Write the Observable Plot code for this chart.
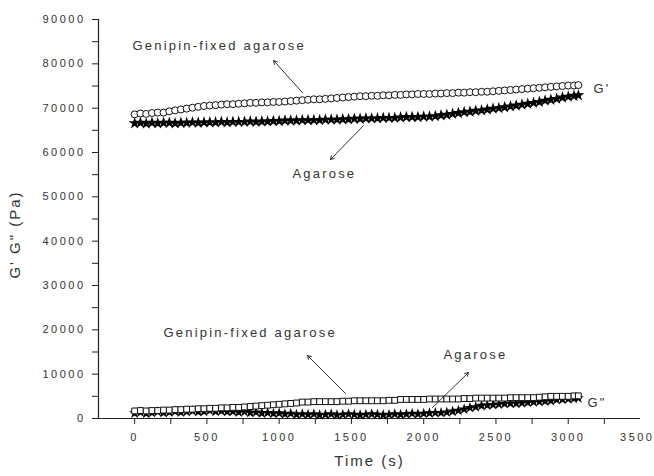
<!DOCTYPE html>
<html><head><meta charset="utf-8">
<script src="https://cdn.jsdelivr.net/npm/d3@7"></script>
<script src="https://cdn.jsdelivr.net/npm/@observablehq/plot@0.6"></script>
<style>
body{margin:0;background:#fff}
svg{font-family:"Liberation Sans",Arial,sans-serif}
</style>
</head><body><div id="chart"></div>
<script>
const times = [
0,40,80,120,160,200,240,280,320,360,
400,440,480,520,560,600,640,680,720,760,
800,840,880,920,960,1000,1040,1080,1120,1160,
1200,1240,1280,1320,1360,1400,1440,1480,1520,1560,
1600,1640,1680,1720,1760,1800,1840,1880,1920,1960,
2000,2040,2080,2120,2160,2200,2240,2280,2320,2360,
2400,2440,2480,2520,2560,2600,2640,2680,2720,2760,
2800,2840,2880,2920,2960,3000,3040,3070];

// G' genipin-fixed agarose (open circles)
const genipinGp = [
68600,68800,68700,68900,69000,69000,69300,69500,69700,69900,
70100,70300,70500,70600,70700,70800,70900,70900,71000,71100,
71200,71200,71300,71300,71400,71400,71500,71600,71700,71800,
71900,72000,72000,72100,72200,72300,72400,72500,72600,72700,
72700,72800,72800,72900,72900,73000,73000,73100,73100,73200,
73200,73200,73300,73300,73400,73400,73500,73500,73600,73600,
73700,73700,73800,73900,74000,74100,74200,74300,74400,74500,
74600,74700,74800,74900,75000,75100,75100,75200];

// G' agarose (filled)
const agaroseGp = [
66600,66700,66500,66700,66600,66700,66700,66600,66700,66700,
66800,66700,66800,66800,66800,66900,66800,66900,66900,66900,
67000,66900,67000,67000,67100,67100,67200,67200,67200,67300,
67300,67300,67300,67400,67400,67400,67500,67500,67600,67600,
67700,67700,67700,67800,67800,67800,67900,68000,68000,68000,
68100,68100,68200,68400,68500,68700,68900,69100,69200,69400,
69500,69700,69900,70000,70200,70400,70600,70800,71000,71200,
71400,71700,71900,72100,72400,72600,72800,72900];

// G" genipin-fixed agarose (open squares)
const genipinGpp = [
1700,1800,1700,1800,1800,1900,1900,2000,2000,2100,
2100,2200,2200,2300,2300,2400,2400,2500,2500,2600,
2700,2800,2900,3000,3100,3200,3300,3400,3500,3700,
3700,3800,3800,3800,3800,3800,3900,3900,4000,4000,
4000,4000,4000,4000,4100,4100,4300,4300,4300,4300,
4300,4400,4400,4400,4400,4400,4400,4500,4500,4600,
4600,4600,4600,4600,4600,4700,4700,4700,4700,4700,
4800,4900,5000,5000,5000,5000,5100,5100];

// G" agarose (stars)
const agaroseGpp = [
1200,1400,1100,1300,1500,1300,1400,1600,1400,1500,
1700,1500,1600,1800,1600,1700,1500,1600,1400,1500,
1300,1400,1200,1300,1100,1200,1000,1100,900,1000,
900,1000,800,900,1000,800,900,1000,900,800,
900,1000,900,800,900,1000,900,1000,1100,1000,
1100,1200,1300,1300,1400,1600,1800,2100,2400,2600,
2900,3000,3100,3200,3300,3400,3400,3500,3600,3700,
3800,3900,4000,4200,4300,4400,4500,4600];

const yTicks = [0,10000,20000,30000,40000,50000,60000,70000,80000,90000];
const yMinor = [5000,15000,25000,35000,45000,55000,65000,75000,85000];
const xTicks = [0,500,1000,1500,2000,2500,3000];
const xLastTick = [3500];
const xMinor = [250,750,1250,1750,2250,2750,3250];

const labels = [
  {t:-15, v:84100, text:"Genipin-fixed agarose"},
  {t:1092, v:55260, text:"Agarose"},
  {t:200, v:19400, text:"Genipin-fixed agarose"},
  {t:2137, v:14440, text:"Agarose"},
  {t:3175, v:74440, text:"G'"},
  {t:3133, v:3610, text:"G\""}
];
const arrows = [
  {t1:1161, v1:73500, t2:961, v2:80750},
  {t1:1584, v1:66090, t2:1355, v2:58420},
  {t1:1459, v1:5640, t2:1196, v2:14210},
  {t1:2061, v1:2480, t2:2310, v2:10380}
];
const yTitle = [{t:-250, v:41500, text:"G' G\" (Pa)"}];
const xTitle = ["Time (s)"];

const rows = (vals) => times.map((t, i) => ({t, v: vals[i]}));

const chart = Plot.plot({
  width: 654, height: 476,
  marginLeft: 98, marginRight: 14, marginTop: 19, marginBottom: 58,
  x: {domain: [-250, 3500]},
  y: {domain: [0, 90000]},
  style: {background: "white", fontFamily: "'Liberation Sans', Arial, sans-serif"},
  marks: [
    Plot.axisY(yMinor, {tickSize: 6, tickFormat: () => "", stroke: "#222", label: null}),
    Plot.axisY(yTicks, {tickSize: 6, tickPadding: 7, tickFormat: d => String(d), fontSize: 11, fill: "#333", stroke: "#222", label: null, ariaLabel: "ytl"}),
    Plot.axisX(xMinor, {tickSize: 6, tickFormat: () => "", stroke: "#222", label: null}),
    Plot.axisX(xTicks, {tickSize: 6, tickPadding: 9, tickFormat: d => String(d), fontSize: 11, fill: "#333", stroke: "#222", label: null, ariaLabel: "xtl"}),
    Plot.axisX(xLastTick, {tickSize: 6, tickPadding: 9, tickFormat: d => String(d), fontSize: 11, fill: "#333", stroke: "#222", label: null, textAnchor: "end", dx: 14, ariaLabel: "xtl"}),
    Plot.ruleX([-250], {y1: 0, y2: 90000, stroke: "#222", strokeWidth: 1.2}),
    Plot.ruleY([0], {x1: -250, x2: 3500, stroke: "#222", strokeWidth: 1.2}),
    Plot.dot(rows(agaroseGp), {x: "t", y: "v", symbol: "star", fill: "black", r: 3.8}),
    Plot.dot(rows(genipinGp), {x: "t", y: "v", symbol: "circle", fill: "white", stroke: "#111", strokeWidth: 1, r: 3.5}),
    Plot.dot(rows(agaroseGpp), {x: "t", y: "v", symbol: "star", fill: "black", r: 3.5}),
    Plot.dot(rows(genipinGpp), {x: "t", y: "v", symbol: "square", fill: "white", stroke: "#111", strokeWidth: 1, r: 3.3}),
    Plot.arrow(arrows, {x1: "t1", y1: "v1", x2: "t2", y2: "v2", stroke: "#333", strokeWidth: 1, headLength: 6}),
    Plot.text(labels, {x: "t", y: "v", text: "text", textAnchor: "start", fontSize: 13, fill: "#333", ariaLabel: "annotation"}),
    Plot.text(xTitle, {frameAnchor: "bottom", dy: 47, fontSize: 15, fill: "#333", ariaLabel: "axistitle"}),
    Plot.text(yTitle, {x: "t", y: "v", text: "text", rotate: -90, dx: -83, fontSize: 15, fill: "#333", ariaLabel: "axistitle"})
  ]
});
document.getElementById("chart").append(chart);
const spacing = {ytl: 2.5, xtl: 2.5, annotation: 2.2, axistitle: 2};
chart.querySelectorAll("text").forEach(el => {
  let g = el.parentNode, val = null;
  while (g && g !== chart) {
    const a = g.getAttribute && g.getAttribute("aria-label");
    if (a && spacing[a] !== undefined) { val = spacing[a]; break; }
    g = g.parentNode;
  }
  if (val === null) {
    const fs = +(el.closest("[font-size]")?.getAttribute("font-size") || 0);
    val = fs >= 14 ? 2 : fs >= 12 ? 2.2 : 2.5;
  }
  el.setAttribute("letter-spacing", val);
  el.style.letterSpacing = val + "px";
});
</script>
</body></html>
